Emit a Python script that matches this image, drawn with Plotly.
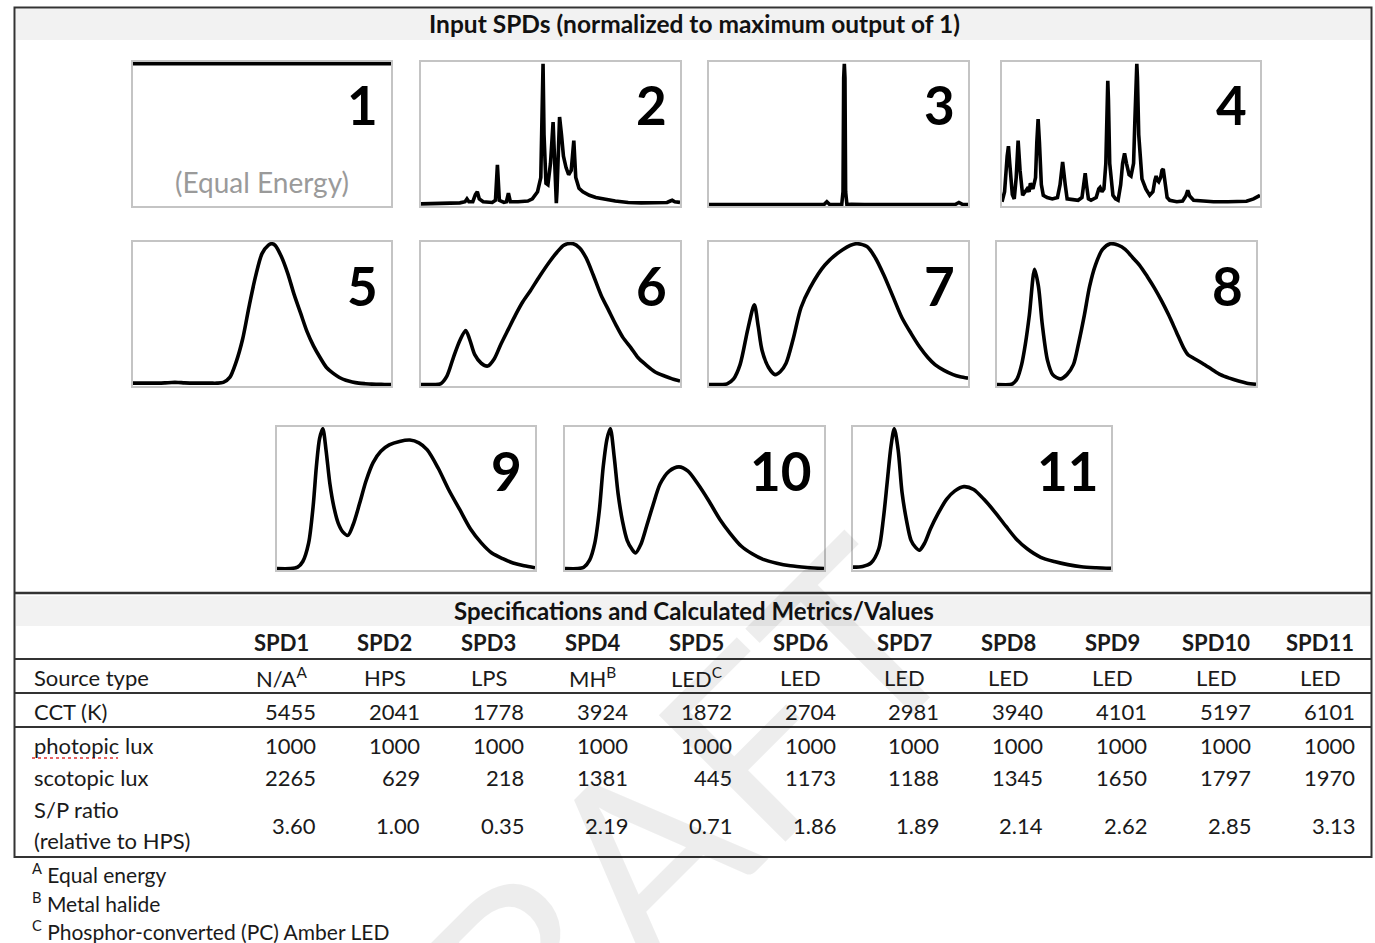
import plotly.graph_objects as go

# ---------------- DATA ----------------
spd_ids = ["1", "2", "3", "4", "5", "6", "7", "8", "9", "10", "11"]

wl1 = [380, 780]
v1 = [1.0, 1.0]

wl2 = [380, 420, 440, 448, 451, 454, 460, 464, 467, 470, 476, 490, 495, 498, 501, 508, 512, 515, 518, 530,
       545, 552, 556, 560, 565, 567, 568.5, 570, 573, 576, 580, 584, 586, 588, 589, 590, 592, 594, 597, 600,
       604, 608, 612, 616, 619, 624, 630, 640, 650, 660, 670, 680, 690, 700, 720, 740, 760, 765, 768, 772, 780]
v2 = [0.015, 0.02, 0.022, 0.03, 0.05, 0.03, 0.03, 0.08, 0.1, 0.05, 0.03, 0.025, 0.04, 0.29, 0.04, 0.025, 0.03, 0.09, 0.03, 0.03,
      0.035, 0.05, 0.08, 0.1, 0.2, 0.6, 1.0, 0.5, 0.16, 0.15, 0.3, 0.59, 0.4, 0.1, 0.02, 0.1, 0.45, 0.625, 0.5, 0.35,
      0.27, 0.22, 0.25, 0.46, 0.2, 0.125, 0.1, 0.075, 0.06, 0.05, 0.042, 0.035, 0.03, 0.025, 0.022, 0.022, 0.025, 0.035, 0.04, 0.03, 0.025]

wl3 = [380, 460, 470, 480, 550, 558, 562, 566, 585, 587, 588, 589, 590, 591, 593, 600, 620, 700, 760, 766, 772, 780]
v3 = [0.01, 0.01, 0.013, 0.01, 0.01, 0.012, 0.03, 0.012, 0.01, 0.1, 0.9, 1.0, 0.9, 0.1, 0.01, 0.012, 0.01, 0.01, 0.01, 0.025, 0.01, 0.01]

wl4 = [380, 384, 388, 390, 392, 396, 399, 402, 405, 408, 412, 416, 419, 422, 424, 428, 432, 434, 436, 438,
       441, 444, 450, 458, 466, 470, 474, 478, 481, 490, 498, 504, 507, 509, 511, 514, 518, 526, 530, 532,
       535, 538, 541, 543, 544, 545, 547, 552, 556, 560, 564, 567, 570, 573, 577, 580, 584, 586, 588, 589,
       590, 592, 597, 603, 609, 614, 617, 619, 621, 623, 626, 628, 630, 633, 636, 640, 651, 660, 665, 668,
       671, 677, 690, 708, 730, 750, 759, 770, 780]
v4 = [0.03, 0.1, 0.35, 0.42, 0.3, 0.08, 0.05, 0.2, 0.46, 0.25, 0.075, 0.1, 0.12, 0.1, 0.16, 0.12, 0.2, 0.45, 0.61, 0.45,
      0.15, 0.075, 0.06, 0.05, 0.06, 0.15, 0.31, 0.15, 0.05, 0.045, 0.04, 0.06, 0.15, 0.23, 0.15, 0.05, 0.04, 0.06, 0.12, 0.13,
      0.1, 0.12, 0.3, 0.75, 0.88, 0.75, 0.3, 0.075, 0.05, 0.04, 0.15, 0.3, 0.37, 0.3, 0.22, 0.21, 0.3, 0.6, 0.95, 1.0,
      0.9, 0.5, 0.19, 0.12, 0.075, 0.1, 0.18, 0.21, 0.18, 0.17, 0.2, 0.25, 0.26, 0.15, 0.06, 0.04, 0.03, 0.035, 0.07, 0.11,
      0.07, 0.04, 0.035, 0.03, 0.03, 0.03, 0.033, 0.05, 0.075]

wl5 = [380, 400, 420, 430, 440, 450, 460, 480, 500, 510, 520, 530, 540, 550, 560, 570, 580, 590, 595, 600,
       610, 620, 630, 640, 650, 660, 670, 680, 690, 700, 710, 720, 730, 740, 750, 760, 770, 780]
v5 = [0.02, 0.02, 0.02, 0.022, 0.025, 0.025, 0.022, 0.02, 0.02, 0.02, 0.025, 0.06, 0.17, 0.33, 0.56, 0.77, 0.93, 0.99, 1.0, 0.99,
      0.91, 0.79, 0.64, 0.51, 0.38, 0.28, 0.2, 0.13, 0.09, 0.06, 0.04, 0.028, 0.02, 0.016, 0.013, 0.012, 0.011, 0.01]

wl6 = [380, 400, 410, 420, 430, 440, 449, 455, 463, 473, 483, 493, 503, 515, 526, 537, 549, 563, 578, 590,
       601, 615, 625, 635, 646, 658, 670, 681, 692, 704, 715, 727, 741, 756, 768, 780]
v6 = [0.01, 0.01, 0.015, 0.07, 0.2, 0.32, 0.39, 0.33, 0.22, 0.16, 0.14, 0.19, 0.29, 0.4, 0.5, 0.59, 0.67, 0.77, 0.87, 0.94,
      0.99, 1.0, 0.97, 0.9, 0.78, 0.64, 0.53, 0.43, 0.34, 0.27, 0.2, 0.15, 0.1, 0.07, 0.05, 0.035]

wl7 = [380, 400, 408, 418, 428, 440, 450, 456, 462, 472, 482, 490, 499, 510, 522, 536, 559, 587, 607, 624,
       637, 650, 664, 678, 692, 706, 718, 729, 743, 757, 768, 780]
v7 = [0.01, 0.01, 0.015, 0.05, 0.15, 0.4, 0.57, 0.42, 0.25, 0.13, 0.08, 0.1, 0.16, 0.33, 0.55, 0.69, 0.85, 0.96, 1.0, 0.98,
      0.9, 0.78, 0.63, 0.48, 0.37, 0.27, 0.2, 0.15, 0.11, 0.08, 0.065, 0.055]

wl8 = [380, 400, 404, 411, 418, 424, 430, 438, 444, 450, 458, 466, 478, 488, 498, 506, 515, 523, 532, 543,
       555, 567, 578, 590, 600, 612, 623, 634, 645, 657, 668, 675, 682, 697, 711, 725, 739, 753, 766, 780]
v8 = [0.01, 0.01, 0.015, 0.05, 0.15, 0.3, 0.5, 0.82, 0.7, 0.43, 0.18, 0.08, 0.05, 0.08, 0.15, 0.3, 0.5, 0.7, 0.85, 0.96,
      1.0, 0.99, 0.96, 0.9, 0.85, 0.77, 0.69, 0.6, 0.5, 0.38, 0.27, 0.22, 0.2, 0.16, 0.12, 0.08, 0.055, 0.035, 0.02, 0.012]

wl9 = [380, 400, 412, 420, 429, 436, 441, 446, 451, 456, 462, 468, 475, 482, 490, 498, 508, 518, 529, 541,
       554, 570, 586, 600, 613, 630, 646, 663, 680, 697, 713, 730, 746, 763, 780]
v9 = [0.01, 0.01, 0.02, 0.06, 0.19, 0.45, 0.73, 0.93, 1.0, 0.85, 0.61, 0.45, 0.33, 0.27, 0.245, 0.32, 0.47, 0.63, 0.76, 0.84,
      0.885, 0.91, 0.92, 0.9, 0.85, 0.72, 0.57, 0.43, 0.29, 0.19, 0.12, 0.08, 0.05, 0.03, 0.016]

wl10 = [380, 400, 409, 418, 426, 433, 439, 445, 450, 456, 462, 469, 476, 483, 489, 497, 506, 516, 527, 541,
        556, 570, 585, 602, 619, 635, 652, 669, 686, 707, 728, 754, 780]
v10 = [0.01, 0.01, 0.02, 0.07, 0.19, 0.42, 0.73, 0.93, 1.0, 0.8, 0.54, 0.34, 0.21, 0.15, 0.12, 0.18, 0.31, 0.46, 0.61, 0.7,
       0.73, 0.7, 0.61, 0.49, 0.36, 0.26, 0.17, 0.115, 0.075, 0.048, 0.03, 0.018, 0.01]

wl11 = [380, 395, 408, 420, 427, 433, 439, 444, 450, 456, 463, 470, 477, 483, 491, 500, 512, 525, 538, 552,
        567, 583, 600, 617, 633, 650, 671, 692, 713, 734, 757, 780]
v11 = [0.02, 0.025, 0.05, 0.15, 0.36, 0.62, 0.88, 1.0, 0.85, 0.55, 0.35, 0.21, 0.16, 0.14, 0.19, 0.29, 0.4, 0.5, 0.56, 0.59,
       0.57, 0.5, 0.41, 0.31, 0.22, 0.15, 0.09, 0.06, 0.038, 0.023, 0.016, 0.012]

spd_wl = [wl1, wl2, wl3, wl4, wl5, wl6, wl7, wl8, wl9, wl10, wl11]
spd_val = [v1, v2, v3, v4, v5, v6, v7, v8, v9, v10, v11]

col_headers = ["SPD1", "SPD2", "SPD3", "SPD4", "SPD5", "SPD6", "SPD7", "SPD8", "SPD9", "SPD10", "SPD11"]
source_type = ["N/A<sup>A</sup>", "HPS", "LPS", "MH<sup>B</sup>", "LED<sup>C</sup>", "LED", "LED", "LED", "LED", "LED", "LED"]
cct_k = [5455, 2041, 1778, 3924, 1872, 2704, 2981, 3940, 4101, 5197, 6101]
photopic_lux = [1000, 1000, 1000, 1000, 1000, 1000, 1000, 1000, 1000, 1000, 1000]
scotopic_lux = [2265, 629, 218, 1381, 445, 1173, 1188, 1345, 1650, 1797, 1970]
sp_ratio = [3.60, 1.00, 0.35, 2.19, 0.71, 1.86, 1.89, 2.14, 2.62, 2.85, 3.13]

title_top = "Input SPDs (normalized to maximum output of 1)"
title_table = "Specifications and Calculated Metrics/Values"
row_labels = ["Source type", "CCT (K)", "photopic lux", "scotopic lux", "S/P ratio", "(relative to HPS)"]
footnotes = ["<sup>A</sup> Equal energy", "<sup>B</sup> Metal halide", "<sup>C</sup> Phosphor-converted (PC) Amber LED"]

# ---------------- LAYOUT HELPERS ----------------
W, H = 1375, 943
FONT = "Lato"


def fx(p):
    return p / W


def fy(p):
    return 1 - p / H


def label(text, px, py, size, color="#1a1a1a", xanchor="center", **kw):
    return dict(text=text, x=fx(px), y=fy(py), xref="paper", yref="paper", showarrow=False,
                xanchor=xanchor, yanchor="middle", font=dict(family=FONT, size=size, color=color), **kw)


# panel frames in pixels (left, right, top, bottom)
panels = [
    (133, 391, 62, 206), (421, 680, 62, 206), (709, 968, 62, 206), (1002, 1260, 62, 206),
    (133, 391, 242, 386), (421, 680, 242, 386), (709, 968, 242, 386), (997, 1256, 242, 386),
    (277, 535, 427, 570), (565, 824, 427, 570), (853, 1111, 427, 570),
]

fig = go.Figure()
layout = dict(width=W, height=H, margin=dict(l=0, r=0, t=0, b=0),
              paper_bgcolor="white", plot_bgcolor="white", showlegend=False)

for i, (wl, val) in enumerate(zip(spd_wl, spd_val)):
    n = i + 1
    smooth = i >= 4
    fig.add_trace(go.Scatter(
        x=wl, y=val, mode="lines",
        line=dict(color="black", width=3.6, shape="spline" if smooth else "linear", smoothing=0.8),
        xaxis=f"x{n}", yaxis=f"y{n}", hoverinfo="skip"))
    l, r, t, b = panels[i]
    common = dict(showgrid=False, zeroline=False, showticklabels=False, ticks="",
                  showline=True, mirror=True, linecolor="#c4c4c4", linewidth=1.5,
                  layer="below traces", fixedrange=True)
    layout[f"xaxis{n}"] = dict(domain=[fx(l), fx(r)], range=[380, 780], anchor=f"y{n}", **common)
    layout[f"yaxis{n}"] = dict(domain=[fy(b), fy(t)], range=[0, 1.012], anchor=f"x{n}", **common)

fig.update_layout(**layout)

shapes = []
# grey title bands
shapes.append(dict(type="rect", xref="paper", yref="paper", x0=fx(16), x1=fx(1370), y0=fy(40), y1=fy(9),
                   fillcolor="#f2f2f2", line=dict(width=0), layer="below"))
shapes.append(dict(type="rect", xref="paper", yref="paper", x0=fx(16), x1=fx(1370), y0=fy(626), y1=fy(596),
                   fillcolor="#f2f2f2", line=dict(width=0), layer="below"))
# outer border
shapes.append(dict(type="rect", xref="paper", yref="paper", x0=fx(14.5), x1=fx(1371.5), y0=fy(857), y1=fy(7.5),
                   line=dict(color="#333333", width=2), fillcolor="rgba(0,0,0,0)"))
# horizontal table rules
for yy, wdt in [(593, 2.5), (659, 2), (693, 2), (727, 2)]:
    shapes.append(dict(type="line", xref="paper", yref="paper", x0=fx(14.5), x1=fx(1371.5), y0=fy(yy), y1=fy(yy),
                       line=dict(color="#333333", width=wdt)))
# spell-check squiggle under "photopic"
shapes.append(dict(type="line", xref="paper", yref="paper", x0=fx(32), x1=fx(118), y0=fy(758), y1=fy(758),
                   line=dict(color="#e03030", width=1.5, dash="dot")))

ann = []
# watermark
ann.append(label("DRAFT", 620, 870, 250, color="rgba(0,0,0,0.07)", textangle=-45))
# titles
ann.append(label("<b>" + title_top + "</b>", 694, 23, 24.5, color="#111"))
ann.append(label("<b>" + title_table + "</b>", 694, 610, 24, color="#111"))
# panel numbers
for i, lab in enumerate(spd_ids):
    l, r, t, b = panels[i]
    ann.append(label("<b>" + lab + "</b>", r - 11, t + 43, 53, color="#000", xanchor="right"))
ann.append(label("(Equal Energy)", 262, 182, 28, color="#9a9a9a"))

# table
TS = 22
col_c = [281 + 103.9 * k for k in range(11)]
for k in range(11):
    cx = col_c[k]
    ann.append(label("<b>" + col_headers[k] + "</b>", cx, 642, TS))
    ann.append(label(source_type[k], cx, 677, TS))
    for row_y, val in [(711, f"{cct_k[k]}"), (745, f"{photopic_lux[k]}"), (777, f"{scotopic_lux[k]}"),
                       (825, f"{sp_ratio[k]:.2f}")]:
        ann.append(label(val, cx + 37, row_y, TS, xanchor="right"))
for lab, row_y in zip(row_labels, [677, 711, 745, 777, 809, 840]):
    ann.append(label(lab, 32, row_y, TS, xanchor="left"))
for lab, row_y in zip(footnotes, [873, 902, 930]):
    ann.append(label(lab, 30, row_y, 21, xanchor="left"))

fig.update_layout(shapes=shapes, annotations=ann)
fig.write_html("out.html", config={"displayModeBar": False})
